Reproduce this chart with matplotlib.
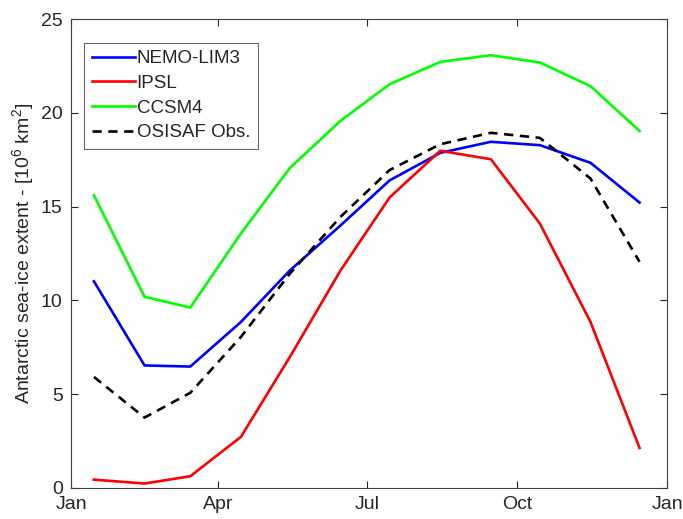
import numpy as np
import matplotlib
matplotlib.use('Agg')
import matplotlib.pyplot as plt

plt.rcParams['font.family'] = ['Liberation Sans', 'DejaVu Sans']
plt.rcParams['mathtext.fontset'] = 'custom'
plt.rcParams['mathtext.rm'] = 'Liberation Sans'

# mid-month day of year
days = [14, 45, 73, 104, 134, 165, 195, 226, 257, 287, 318, 348]

nemo = [11.02, 6.53, 6.47, 8.85, 11.6, 14.0, 16.4, 17.87, 18.46, 18.28, 17.34, 15.22]
ipsl = [0.44, 0.23, 0.62, 2.72, 6.99, 11.6, 15.49, 17.98, 17.53, 14.1, 8.85, 2.13]
ccsm4 = [15.61, 10.19, 9.62, 13.57, 17.07, 19.58, 21.53, 22.72, 23.08, 22.69, 21.43, 19.04]
osisaf = [5.92, 3.75, 5.07, 8.05, 11.43, 14.46, 16.95, 18.33, 18.94, 18.67, 16.5, 12.06]

tick_pos = [0, 90, 181, 273, 365]
tick_lab = ['Jan', 'Apr', 'Jul', 'Oct', 'Jan']

fig = plt.figure(figsize=(6.83, 5.19), dpi=100)
ax = fig.add_axes([0.104, 0.06, 0.873, 0.903])

ax.plot(days, nemo, color=(0, 0, 1), lw=1.9, label='NEMO-LIM3')
ax.plot(days, ipsl, color=(1, 0, 0), lw=1.9, label='IPSL')
ax.plot(days, ccsm4, color=(0, 1, 0), lw=1.9, label='CCSM4')
ax.plot(days, osisaf, color='k', lw=1.9, ls=(0, (3.5, 2.5)), label='OSISAF Obs.')

ax.set_xlim(0, 365)
ax.set_ylim(0, 25)
ax.set_xticks(tick_pos)
ax.set_xticklabels(tick_lab)
ax.set_yticks([0, 5, 10, 15, 20, 25])
ax.tick_params(direction='in', top=True, right=True, labelsize=14, length=5, width=0.8,
               color='#262626', labelcolor='#262626')
ax.tick_params(axis='x', pad=6)
ax.tick_params(axis='y', pad=6)
for s in ax.spines.values():
    s.set_linewidth(0.8)
    s.set_color('#404040')

ax.set_ylabel('Antarctic sea-ice extent - [10$^6$ km$^2$]', fontsize=14, labelpad=3, color='#262626')

leg = ax.legend(loc='upper left', bbox_to_anchor=(0.022, 0.95), fontsize=13.5, frameon=True,
                fancybox=False, edgecolor='#404040', handlelength=2.3, handletextpad=0.1,
                labelspacing=0.4, borderpad=0.4, borderaxespad=0)
leg.get_frame().set_linewidth(0.8)
for t in leg.get_texts():
    t.set_color('#262626')

plt.savefig('out.png', dpi=100)
